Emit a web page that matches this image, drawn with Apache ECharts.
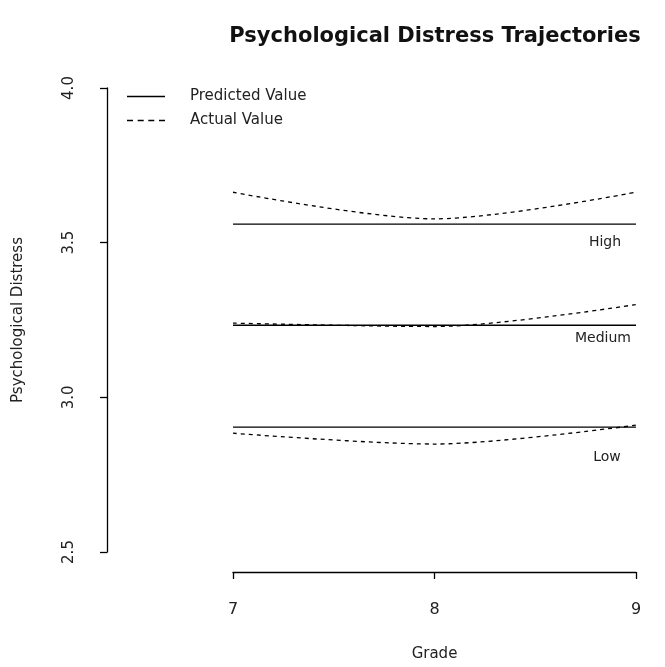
<!DOCTYPE html>
<html>
<head>
<meta charset="utf-8">
<script src="https://cdn.jsdelivr.net/npm/echarts@6/dist/echarts.min.js"></script>
<style>html,body{margin:0;padding:0;background:#fff}#chart{width:665px;height:667px}</style>
</head>
<body>
<div id="chart"></div>
<script>
const grades = [7, 8, 9];
const yTicks = [2.5, 3.0, 3.5, 4.0];
const groups = ['High', 'Medium', 'Low'];
const highPredicted = [3.56, 3.56, 3.56];
const highActual = [3.663, 3.577, 3.663];
const mediumPredicted = [3.233, 3.233, 3.233];
const mediumActual = [3.24, 3.229, 3.30];
const lowPredicted = [2.904, 2.904, 2.904];
const lowActual = [2.884, 2.849, 2.91];

const pair = arr => grades.map((g, i) => [g, arr[i]]);
const FONT = 'DejaVu Sans';
const labelOffsets = { High: [-31, 18], Medium: [-33, 13], Low: [-29, 30] };

function predSeries(name, arr) {
  return {
    name: 'Predicted Value', type: 'line', data: pair(arr), symbol: 'none',
    lineStyle: { color: '#000', width: 1.3, type: 'solid' },
    itemStyle: { color: '#000' },
    endLabel: {
      show: true, formatter: () => name, distance: 0, align: 'center', verticalAlign: 'middle',
      offset: labelOffsets[name], fontFamily: FONT, fontSize: 14, color: '#222'
    },
    silent: true, animation: false
  };
}
function actSeries(arr) {
  return {
    name: 'Actual Value', type: 'line', data: pair(arr), symbol: 'none', smooth: 0.3,
    lineStyle: { color: '#000', width: 1.3, type: [4, 4] },
    itemStyle: { color: '#000' },
    silent: true, animation: false
  };
}

const solidIcon = 'path://M0,0H38V1.3H0Z';
const dashIcon = 'path://M0,0H6V1.3H0Z M10.7,0H16.7V1.3H10.7Z M21.3,0H27.3V1.3H21.3Z M32,0H38V1.3H32Z';

const chart = echarts.init(document.getElementById('chart'));
chart.setOption({
  backgroundColor: '#fff',
  animation: false,
  title: {
    text: 'Psychological Distress Trajectories',
    left: 430, top: 21, textAlign: 'center',
    textStyle: { fontFamily: FONT, fontSize: 21, fontWeight: 'bold', color: '#111' }
  },
  legend: {
    data: [
      { name: 'Predicted Value', icon: solidIcon },
      { name: 'Actual Value', icon: dashIcon }
    ],
    orient: 'vertical', left: 122, top: 84,
    itemWidth: 38, itemHeight: 1.3, itemGap: 9,
    itemStyle: { color: '#000' },
    textStyle: { fontFamily: FONT, fontSize: 15, color: '#222', padding: [0, 0, 0, 20] }
  },
  grid: { left: 233, right: 29, top: 88, bottom: 115 },
  xAxis: {
    type: 'value', min: 7, max: 9, interval: 1, offset: 20,
    name: 'Grade', nameLocation: 'middle', nameGap: 75,
    nameTextStyle: { fontFamily: FONT, fontSize: 15, color: '#222' },
    axisLine: { show: true, lineStyle: { color: '#000', width: 1.3 } },
    axisTick: { show: true, length: 7, lineStyle: { color: '#000', width: 1.3 } },
    axisLabel: { margin: 30, fontFamily: FONT, fontSize: 16, color: '#222' },
    splitLine: { show: false }
  },
  yAxis: {
    type: 'value', min: yTicks[0], max: yTicks[yTicks.length - 1], interval: 0.5, offset: 126,
    name: 'Psychological Distress', nameLocation: 'middle', nameGap: 81, nameRotate: 90,
    nameTextStyle: { fontFamily: FONT, fontSize: 15, color: '#222' },
    axisLine: { show: true, lineStyle: { color: '#000', width: 1.3 } },
    axisTick: { show: true, length: 7, lineStyle: { color: '#000', width: 1.3 } },
    axisLabel: { rotate: 90, margin: 30, fontFamily: FONT, fontSize: 15, color: '#222',
      formatter: v => v.toFixed(1) },
    splitLine: { show: false }
  },
  series: [
    predSeries(groups[0], highPredicted), actSeries(highActual),
    predSeries(groups[1], mediumPredicted), actSeries(mediumActual),
    predSeries(groups[2], lowPredicted), actSeries(lowActual)
  ]
});
</script>
</body>
</html>
